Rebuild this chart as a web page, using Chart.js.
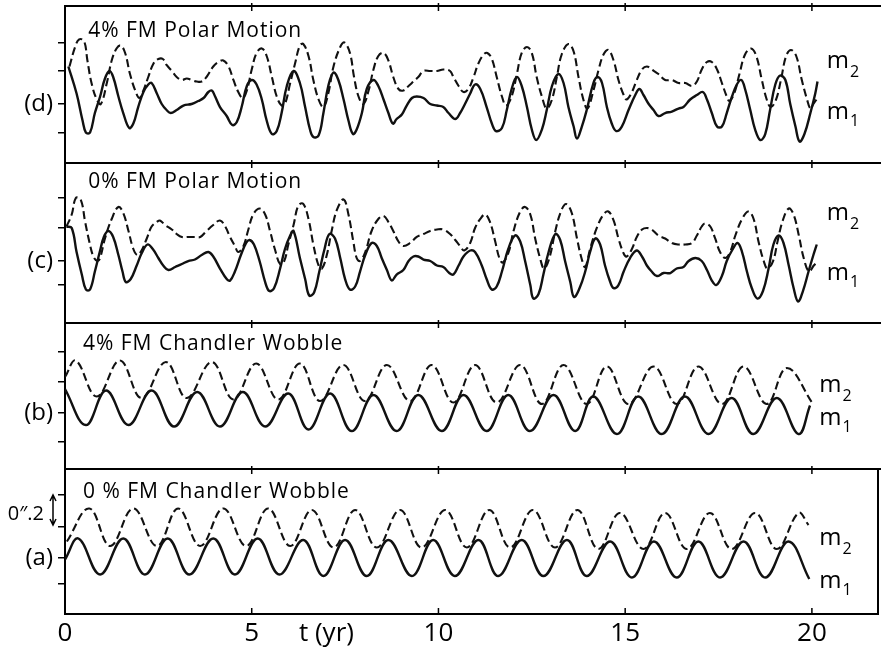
<!DOCTYPE html>
<html>
<head>
<meta charset="utf-8">
<script src="https://cdn.jsdelivr.net/npm/chart.js@4.4.1/dist/chart.umd.min.js"></script>
<style>
  html, body { margin: 0; padding: 0; background: #fff; }
</style>
</head>
<body>
<canvas id="chart" width="881" height="656"></canvas>
<script>
// t in years, m1 / m2 in arcsec (panel zero at the "(x)" mark)
const xTicks = [0, 5, 7, 10, 15, 20];
const xLabels = ["0", "5", "t (yr)", "10", "15", "20"];

const panelNames = ["(d)", "(c)", "(b)", "(a)"];
const panelTitles = ["4% FM Polar Motion", "0% FM Polar Motion", "4% FM Chandler Wobble", "0 % FM Chandler Wobble"];
const panelTicks = [
    [-0.19, 0, 0.22, 0.41],
    [-0.16, 0, 0.22, 0.42],
    [-0.19, 0, 0.21, 0.41],
    [-0.17, 0, 0.21, 0.42]
];

// (d) 4% FM polar motion
const m1d = [[0.09,0.25],[0.31,0.07],[0.47,-0.11],[0.56,-0.19],[0.67,-0.19],[0.80,-0.06],[0.94,0.05],[1.07,0.17],[1.19,0.22],[1.29,0.18],[1.43,0.05],[1.56,-0.06],[1.72,-0.16],[1.83,-0.13],[1.96,-0.02],[2.10,0.08],[2.23,0.13],[2.32,0.14],[2.46,0.07],[2.59,0.00],[2.72,-0.04],[2.83,-0.06],[2.99,-0.04],[3.17,-0.01],[3.39,0.00],[3.57,0.02],[3.71,0.04],[3.84,0.08],[3.93,0.09],[4.02,0.05],[4.15,-0.02],[4.33,-0.08],[4.48,-0.14],[4.60,-0.12],[4.73,-0.02],[4.87,0.12],[5.00,0.16],[5.13,0.13],[5.27,0.03],[5.40,-0.11],[5.54,-0.20],[5.67,-0.18],[5.80,-0.06],[5.94,0.12],[6.12,0.22],[6.29,0.14],[6.43,-0.02],[6.56,-0.17],[6.65,-0.22],[6.79,-0.21],[6.92,-0.06],[7.05,0.12],[7.19,0.21],[7.32,0.16],[7.46,0.03],[7.59,-0.11],[7.71,-0.20],[7.81,-0.17],[7.95,-0.06],[8.08,0.10],[8.26,0.16],[8.39,0.12],[8.53,0.03],[8.66,-0.06],[8.78,-0.13],[8.88,-0.10],[9.02,-0.07],[9.15,-0.01],[9.29,0.04],[9.42,0.05],[9.60,0.04],[9.78,0.00],[9.96,-0.01],[10.13,-0.02],[10.27,-0.06],[10.45,-0.10],[10.58,-0.06],[10.71,0.00],[10.85,0.07],[10.98,0.13],[11.12,0.10],[11.29,-0.02],[11.43,-0.13],[11.54,-0.18],[11.70,-0.16],[11.83,-0.04],[11.96,0.10],[12.10,0.18],[12.23,0.12],[12.37,-0.02],[12.50,-0.17],[12.62,-0.24],[12.77,-0.17],[12.90,-0.04],[13.04,0.12],[13.21,0.20],[13.35,0.14],[13.48,-0.02],[13.62,-0.15],[13.71,-0.23],[13.84,-0.15],[13.97,-0.04],[14.15,0.14],[14.26,0.18],[14.38,0.14],[14.51,-0.02],[14.64,-0.13],[14.76,-0.18],[14.91,-0.15],[15.09,-0.04],[15.27,0.06],[15.38,0.10],[15.49,0.06],[15.63,0.00],[15.76,-0.04],[15.89,-0.08],[16.07,-0.06],[16.25,-0.05],[16.43,-0.03],[16.56,-0.02],[16.74,0.03],[16.92,0.06],[17.08,0.08],[17.19,0.03],[17.32,-0.06],[17.46,-0.15],[17.59,-0.15],[17.72,-0.06],[17.86,0.05],[17.99,0.13],[18.11,0.16],[18.21,0.10],[18.35,-0.04],[18.48,-0.17],[18.62,-0.24],[18.75,-0.20],[18.88,-0.04],[19.02,0.13],[19.15,0.19],[19.29,0.16],[19.42,0.00],[19.56,-0.15],[19.67,-0.25],[19.80,-0.20],[19.96,-0.06],[20.09,0.07],[20.15,0.15]];
const m2d = [[0.12,0.25],[0.27,0.38],[0.38,0.43],[0.51,0.42],[0.60,0.29],[0.71,0.14],[0.85,0.03],[0.96,0.00],[1.12,0.14],[1.25,0.29],[1.38,0.37],[1.49,0.39],[1.61,0.34],[1.74,0.20],[1.88,0.09],[1.99,0.04],[2.10,0.09],[2.23,0.18],[2.37,0.27],[2.50,0.30],[2.62,0.30],[2.72,0.26],[2.86,0.22],[2.99,0.18],[3.13,0.16],[3.26,0.17],[3.39,0.16],[3.53,0.15],[3.66,0.15],[3.79,0.18],[3.97,0.25],[4.11,0.28],[4.24,0.29],[4.38,0.25],[4.51,0.16],[4.64,0.08],[4.76,0.04],[4.87,0.09],[5.00,0.23],[5.13,0.34],[5.27,0.37],[5.40,0.32],[5.54,0.18],[5.67,0.05],[5.80,-0.01],[5.89,0.00],[6.03,0.14],[6.16,0.27],[6.29,0.39],[6.38,0.40],[6.52,0.32],[6.65,0.16],[6.79,0.03],[6.92,-0.02],[7.05,0.07],[7.19,0.25],[7.37,0.38],[7.48,0.41],[7.63,0.34],[7.74,0.18],[7.86,0.05],[7.99,0.00],[8.13,0.09],[8.26,0.23],[8.39,0.32],[8.53,0.34],[8.66,0.29],[8.79,0.18],[8.93,0.10],[9.06,0.09],[9.20,0.12],[9.33,0.15],[9.46,0.18],[9.60,0.22],[9.78,0.22],[9.96,0.22],[10.13,0.23],[10.31,0.22],[10.40,0.18],[10.54,0.12],[10.67,0.08],[10.80,0.10],[10.94,0.18],[11.07,0.27],[11.21,0.33],[11.31,0.34],[11.43,0.30],[11.56,0.18],[11.70,0.05],[11.81,-0.01],[11.96,0.05],[12.10,0.20],[12.23,0.34],[12.37,0.38],[12.50,0.34],[12.63,0.18],[12.77,0.05],[12.90,-0.03],[13.04,0.03],[13.17,0.18],[13.30,0.33],[13.48,0.40],[13.62,0.35],[13.75,0.18],[13.88,0.03],[13.99,-0.03],[14.15,0.09],[14.29,0.23],[14.42,0.33],[14.55,0.36],[14.69,0.29],[14.82,0.16],[14.96,0.06],[15.04,0.03],[15.18,0.08],[15.31,0.16],[15.45,0.23],[15.58,0.25],[15.71,0.23],[15.89,0.20],[16.07,0.16],[16.25,0.16],[16.43,0.14],[16.61,0.14],[16.79,0.12],[16.92,0.15],[17.05,0.23],[17.19,0.28],[17.32,0.28],[17.46,0.23],[17.59,0.14],[17.72,0.05],[17.79,0.02],[17.92,0.07],[18.06,0.20],[18.21,0.33],[18.37,0.37],[18.51,0.32],[18.66,0.16],[18.79,0.03],[18.90,-0.02],[19.04,0.03],[19.17,0.16],[19.31,0.32],[19.44,0.36],[19.58,0.32],[19.73,0.16],[19.87,0.03],[19.96,-0.03],[20.04,0.00],[20.15,0.04]];

// (c) 0% FM polar motion
const m1c = [[0.04,0.23],[0.18,0.22],[0.31,0.06],[0.45,-0.09],[0.56,-0.19],[0.67,-0.19],[0.80,-0.07],[0.94,0.07],[1.04,0.16],[1.16,0.20],[1.29,0.16],[1.43,0.04],[1.54,-0.07],[1.63,-0.14],[1.76,-0.12],[1.92,-0.03],[2.05,0.05],[2.21,0.11],[2.35,0.08],[2.50,0.02],[2.63,-0.03],[2.77,-0.06],[2.95,-0.04],[3.13,-0.02],[3.30,0.00],[3.48,0.01],[3.66,0.04],[3.84,0.06],[3.97,0.03],[4.15,-0.05],[4.33,-0.12],[4.42,-0.13],[4.55,-0.07],[4.71,0.04],[4.85,0.12],[4.94,0.14],[5.06,0.11],[5.21,0.00],[5.36,-0.14],[5.47,-0.20],[5.60,-0.18],[5.76,-0.05],[5.89,0.08],[6.03,0.17],[6.12,0.20],[6.29,0.02],[6.43,-0.12],[6.54,-0.23],[6.67,-0.21],[6.81,-0.07],[6.95,0.08],[7.08,0.18],[7.23,0.15],[7.37,0.02],[7.50,-0.12],[7.63,-0.19],[7.77,-0.17],[7.90,-0.07],[8.04,0.04],[8.21,0.12],[8.35,0.10],[8.48,0.02],[8.62,-0.06],[8.75,-0.13],[8.88,-0.09],[9.06,-0.06],[9.20,0.00],[9.33,0.03],[9.46,0.03],[9.60,0.01],[9.78,0.00],[9.96,-0.03],[10.13,-0.04],[10.29,-0.08],[10.40,-0.09],[10.54,-0.03],[10.67,0.03],[10.85,0.07],[10.98,0.06],[11.16,-0.03],[11.29,-0.12],[11.43,-0.19],[11.56,-0.17],[11.70,-0.07],[11.87,0.08],[12.05,0.17],[12.19,0.13],[12.32,0.00],[12.46,-0.16],[12.54,-0.25],[12.68,-0.22],[12.81,-0.09],[12.95,0.06],[13.13,0.18],[13.26,0.14],[13.39,0.00],[13.53,-0.14],[13.63,-0.24],[13.78,-0.18],[13.93,-0.07],[14.06,0.06],[14.20,0.15],[14.33,0.11],[14.46,-0.03],[14.60,-0.14],[14.69,-0.18],[14.82,-0.16],[14.96,-0.07],[15.13,0.02],[15.31,0.07],[15.45,0.03],[15.58,-0.03],[15.71,-0.07],[15.85,-0.10],[16.03,-0.08],[16.21,-0.08],[16.38,-0.05],[16.56,-0.04],[16.70,0.00],[16.88,0.02],[17.05,0.00],[17.19,-0.06],[17.32,-0.13],[17.44,-0.16],[17.59,-0.10],[17.72,0.00],[17.86,0.07],[18.01,0.12],[18.13,0.06],[18.26,-0.07],[18.39,-0.18],[18.54,-0.25],[18.69,-0.20],[18.84,-0.05],[18.97,0.11],[19.11,0.17],[19.24,0.12],[19.38,-0.03],[19.51,-0.18],[19.63,-0.27],[19.76,-0.20],[19.91,-0.07],[20.04,0.04],[20.13,0.11]];
const m2c = [[0.04,0.23],[0.18,0.31],[0.29,0.42],[0.42,0.41],[0.54,0.26],[0.65,0.13],[0.76,0.03],[0.87,0.00],[0.94,0.02],[1.07,0.15],[1.25,0.28],[1.43,0.36],[1.56,0.32],[1.70,0.20],[1.83,0.08],[1.94,0.04],[2.05,0.07],[2.19,0.15],[2.32,0.23],[2.46,0.26],[2.54,0.27],[2.68,0.24],[2.86,0.21],[2.99,0.18],[3.13,0.16],[3.30,0.16],[3.48,0.16],[3.62,0.16],[3.79,0.20],[3.97,0.24],[4.15,0.27],[4.29,0.23],[4.42,0.16],[4.55,0.10],[4.64,0.06],[4.78,0.10],[4.91,0.21],[5.04,0.31],[5.21,0.35],[5.36,0.31],[5.49,0.20],[5.63,0.07],[5.76,-0.02],[5.87,0.00],[5.98,0.11],[6.12,0.24],[6.25,0.37],[6.38,0.38],[6.52,0.28],[6.65,0.11],[6.79,-0.03],[6.88,-0.05],[7.01,0.04],[7.14,0.20],[7.28,0.34],[7.46,0.41],[7.59,0.31],[7.72,0.13],[7.81,0.02],[7.90,0.00],[8.04,0.06],[8.21,0.20],[8.39,0.28],[8.53,0.30],[8.66,0.26],[8.79,0.20],[8.93,0.13],[9.06,0.10],[9.24,0.12],[9.42,0.16],[9.60,0.18],[9.78,0.20],[9.96,0.21],[10.13,0.21],[10.31,0.18],[10.45,0.14],[10.58,0.10],[10.69,0.07],[10.85,0.12],[10.98,0.22],[11.12,0.28],[11.25,0.31],[11.38,0.26],[11.52,0.13],[11.63,0.02],[11.72,-0.01],[11.88,0.06],[12.01,0.20],[12.19,0.33],[12.32,0.36],[12.46,0.31],[12.59,0.15],[12.72,0.02],[12.83,-0.05],[12.97,0.02],[13.13,0.20],[13.28,0.33],[13.42,0.38],[13.57,0.32],[13.71,0.15],[13.84,0.01],[13.93,-0.04],[14.06,0.08],[14.24,0.22],[14.42,0.31],[14.55,0.33],[14.69,0.27],[14.82,0.15],[14.96,0.05],[15.04,0.03],[15.18,0.08],[15.31,0.16],[15.45,0.21],[15.58,0.22],[15.71,0.21],[15.89,0.17],[16.07,0.15],[16.25,0.12],[16.43,0.11],[16.61,0.11],[16.79,0.12],[16.92,0.17],[17.05,0.23],[17.14,0.25],[17.28,0.23],[17.41,0.15],[17.54,0.06],[17.68,0.02],[17.81,0.06],[17.95,0.17],[18.13,0.28],[18.30,0.33],[18.44,0.28],[18.57,0.13],[18.71,0.00],[18.81,-0.05],[18.96,0.00],[19.08,0.13],[19.22,0.27],[19.38,0.35],[19.51,0.31],[19.65,0.17],[19.78,0.02],[19.92,-0.07],[20.05,-0.03],[20.16,0.00]];

// (b) 4% FM Chandler wobble (turning points)
const m1b = [[0,0.16],[0.56,-0.08],[1.10,0.15],[1.70,-0.08],[2.32,0.15],[2.92,-0.09],[3.54,0.14],[4.15,-0.09],[4.76,0.14],[5.36,-0.09],[5.98,0.13],[6.52,-0.11],[7.10,0.13],[7.68,-0.12],[8.26,0.12],[8.88,-0.12],[9.46,0.12],[10.09,-0.12],[10.67,0.12],[11.29,-0.12],[11.87,0.12],[12.45,-0.12],[13.08,0.12],[13.66,-0.12],[14.15,0.11],[14.78,-0.14],[15.35,0.11],[15.98,-0.14],[16.60,0.11],[17.23,-0.14],[17.85,0.10],[18.43,-0.14],[19.06,0.10],[19.64,-0.14],[19.95,0.05]];
const m2b = [[0,0.24],[0.29,0.35],[0.85,0.11],[1.47,0.35],[2.05,0.10],[2.70,0.34],[3.26,0.10],[3.93,0.34],[4.51,0.09],[5.12,0.33],[5.71,0.09],[6.29,0.33],[6.83,0.08],[7.45,0.32],[8.03,0.08],[8.62,0.32],[9.24,0.08],[9.82,0.32],[10.40,0.07],[10.98,0.32],[11.56,0.07],[12.19,0.32],[12.77,0.06],[13.35,0.32],[13.97,0.06],[14.51,0.31],[15.09,0.06],[15.76,0.31],[16.38,0.06],[16.96,0.31],[17.59,0.06],[18.17,0.31],[18.79,0.06],[19.33,0.30],[20.03,0.06]];

// (a) 0% FM Chandler wobble (turning points)
const m1a = [[0,-0.01],[0.36,0.13],[0.94,-0.11],[1.56,0.13],[2.14,-0.11],[2.75,0.13],[3.33,-0.11],[3.97,0.13],[4.55,-0.11],[5.16,0.13],[5.74,-0.11],[6.38,0.12],[6.92,-0.12],[7.50,0.12],[8.08,-0.12],[8.66,0.12],[9.29,-0.12],[9.86,0.12],[10.44,-0.12],[11.07,0.12],[11.60,-0.12],[12.23,0.12],[12.81,-0.12],[13.44,0.12],[13.97,-0.12],[14.60,0.11],[15.18,-0.13],[15.77,0.11],[16.38,-0.13],[16.96,0.11],[17.54,-0.13],[18.17,0.11],[18.75,-0.13],[19.37,0.11],[19.93,-0.14]];
const m2a = [[0.05,0.11],[0.65,0.33],[1.21,0.08],[1.83,0.33],[2.46,0.08],[3.03,0.33],[3.62,0.08],[4.24,0.33],[4.85,0.08],[5.44,0.33],[6.03,0.08],[6.61,0.32],[7.19,0.07],[7.77,0.32],[8.35,0.07],[8.97,0.32],[9.55,0.07],[10.18,0.32],[10.76,0.07],[11.36,0.32],[11.92,0.07],[12.53,0.32],[13.12,0.07],[13.72,0.32],[14.28,0.06],[14.86,0.30],[15.49,0.06],[16.07,0.30],[16.65,0.06],[17.27,0.30],[17.85,0.06],[18.48,0.30],[19.06,0.06],[19.64,0.30],[19.91,0.22]];

const FONT = "'Open Sans', 'DejaVu Sans', sans-serif";
const axisIds = ["yD", "yC", "yB", "yA"];

function line(arr, axis, dashed) {
    return {
        data: arr.map(([x, y]) => ({ x, y })),
        yAxisID: axis,
        borderColor: "#111",
        borderWidth: dashed ? 2.1 : 2.4,
        borderDash: dashed ? [8, 4] : [],
        pointRadius: 0,
        tension: 0.4,
        fill: false
    };
}

// stacked panels, top to bottom: (d) (c) (b) (a)
const panelRange = [[-0.393, 0.653], [-0.413, 0.653], [-0.373, 0.6], [-0.373, 0.593]];
const panelWeight = [157, 160, 146, 145];

function panelAxis(i) {
    return {
        type: "linear",
        position: "left",
        stack: "panels",
        stackWeight: panelWeight[i],
        weight: 4 - i,
        min: panelRange[i][0],
        max: panelRange[i][1],
        afterBuildTicks: s => { s.ticks = panelTicks[i].map(v => ({ value: v })); },
        afterFit: s => {
            s.width = 65;
            s.paddingTop = 0;
            s.paddingBottom = 0;
        },
        grid: { drawOnChartArea: false, drawTicks: true, tickLength: 7, color: "#000", lineWidth: 1.5 },
        border: { display: true, color: "#000", width: 2 },
        ticks: {
            autoSkip: false,
            padding: 5,
            color: "#000",
            font: { family: FONT, size: 24 },
            callback: v => (v === 0 ? panelNames[i] : "")
        }
    };
}

const framePlugin = {
    id: "frame",
    afterDraw(chart) {
        const { ctx, chartArea: area, scales } = chart;
        const x = scales.x;
        const panels = axisIds.map(id => scales[id]);
        ctx.save();
        ctx.strokeStyle = "#000";
        ctx.fillStyle = "#000";

        // frame lines between the panels
        ctx.lineWidth = 2;
        ctx.beginPath();
        panels.forEach(s => {
            ctx.moveTo(area.left - 1, s.top);
            ctx.lineTo(chart.width, s.top);
        });
        ctx.moveTo(area.right, panels[3].top);
        ctx.lineTo(area.right, area.bottom + 1);
        ctx.stroke();

        // year marks
        ctx.lineWidth = 1.5;
        ctx.beginPath();
        [5, 10, 15, 20].forEach(v => {
            const px = x.getPixelForValue(v);
            panels.forEach(s => {
                ctx.moveTo(px, s.top - 3);
                ctx.lineTo(px, s.top + 5);
            });
            ctx.moveTo(px, area.bottom);
            ctx.lineTo(px, area.bottom - 6);
        });
        ctx.stroke();

        // panel titles
        const titleAt = [[0.62, 0.447], [0.62, 0.487], [0.48, 0.42], [0.48, 0.40]];
        ctx.font = "21px " + FONT;
        ctx.textAlign = "left";
        ctx.textBaseline = "alphabetic";
        if ("letterSpacing" in ctx) ctx.letterSpacing = "1px";
        panelTitles.forEach((t, i) => {
            ctx.fillText(t, x.getPixelForValue(titleAt[i][0]), panels[i].getPixelForValue(titleAt[i][1]));
        });
        if ("letterSpacing" in ctx) ctx.letterSpacing = "0px";

        // m2 / m1 labels at the right
        const mAt = [[20.4, 0.24, -0.10], [20.4, 0.27, -0.127], [20.2, 0.14, -0.08], [20.2, 0.087, -0.20]];
        mAt.forEach(([tx, y2, y1], i) => {
            const px = x.getPixelForValue(tx);
            [[y2, "2", 9], [y1, "1", 7]].forEach(([yv, sub, drop]) => {
                const py = panels[i].getPixelForValue(yv);
                ctx.font = "24px " + FONT;
                ctx.fillText("m", px, py);
                const w = ctx.measureText("m").width;
                ctx.font = "16px " + FONT;
                ctx.fillText(sub, px + w + 1, py + drop);
            });
        });

        // 0".2 scale arrow in panel (a)
        const ya = panels[3];
        const ax = area.left - 12;
        const top = ya.getPixelForValue(0.42);
        const bot = ya.getPixelForValue(0.22);
        ctx.lineWidth = 1.5;
        ctx.beginPath();
        ctx.moveTo(ax, top);
        ctx.lineTo(ax, bot);
        ctx.moveTo(ax - 3, top + 6);
        ctx.lineTo(ax, top);
        ctx.lineTo(ax + 3, top + 6);
        ctx.moveTo(ax - 3, bot - 6);
        ctx.lineTo(ax, bot);
        ctx.lineTo(ax + 3, bot - 6);
        ctx.stroke();
        ctx.font = "20px " + FONT;
        ctx.textAlign = "right";
        ctx.textBaseline = "middle";
        ctx.fillText("0\u2033.2", ax - 9, ya.getPixelForValue(0.29));
        ctx.restore();
    }
};

new Chart(document.getElementById("chart"), {
    type: "line",
    data: {
        datasets: [
            line(m1d, "yD", false), line(m2d, "yD", true),
            line(m1c, "yC", false), line(m2c, "yC", true),
            line(m1b, "yB", false), line(m2b, "yB", true),
            line(m1a, "yA", false), line(m2a, "yA", true)
        ]
    },
    options: {
        responsive: false,
        animation: false,
        layout: { padding: { top: 6, right: 3, left: 0, bottom: 0 } },
        plugins: { legend: { display: false }, tooltip: { enabled: false } },
        scales: {
            x: {
                type: "linear",
                position: "bottom",
                min: 0,
                max: 21.77,
                afterBuildTicks: s => { s.ticks = xTicks.map(v => ({ value: v })); },
                afterFit: s => {
                    s.height = 42;
                    s.paddingLeft = 0;
                    s.paddingRight = 0;
                },
                grid: { display: true, drawOnChartArea: false, drawTicks: false },
                border: { display: true, color: "#000", width: 2 },
                ticks: {
                    autoSkip: false,
                    maxRotation: 0,
                    padding: 4,
                    color: "#000",
                    font: { family: FONT, size: 26 },
                    callback: (v, i) => xLabels[i]
                }
            },
            yD: panelAxis(0),
            yC: panelAxis(1),
            yB: panelAxis(2),
            yA: panelAxis(3)
        }
    },
    plugins: [framePlugin]
});
</script>
</body>
</html>
